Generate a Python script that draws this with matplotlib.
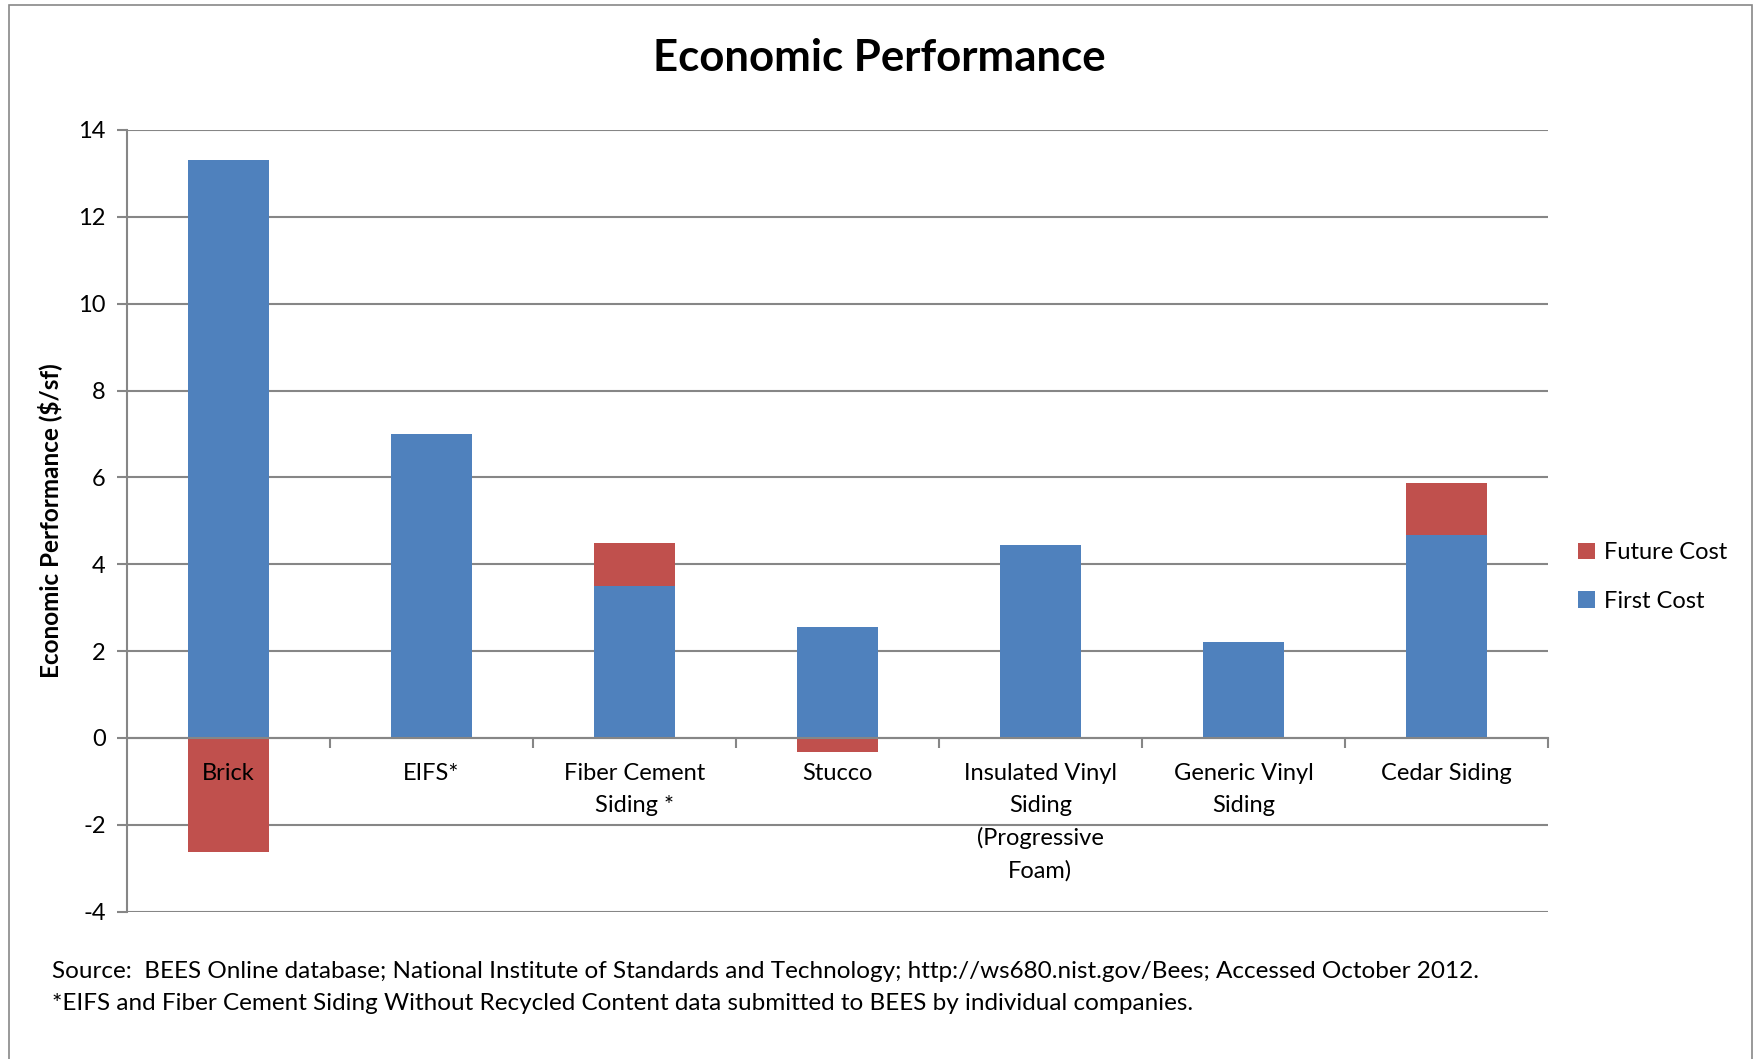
import matplotlib
matplotlib.use("Agg")
import matplotlib.pyplot as plt
from matplotlib.patches import Rectangle
import numpy as np

categories = ["Brick", "EIFS*", "Fiber Cement\nSiding *", "Stucco",
              "Insulated Vinyl\nSiding\n(Progressive\nFoam)", "Generic Vinyl\nSiding", "Cedar Siding"]
first_cost = [13.30, 7.01, 3.49, 2.56, 4.44, 2.22, 4.67]
future_cost = [-2.63, 0.0, 1.01, -0.32, 0.0, 0.0, 1.21]
yticks = [-4, -2, 0, 2, 4, 6, 8, 10, 12, 14]

plt.rcParams['font.family'] = ['Lato', 'DejaVu Sans']

W, H = 1758, 1059
fig = plt.figure(figsize=(W / 100, H / 100), dpi=100)
ax = fig.add_axes([126.7 / W, 1 - 911.6 / H, (1548 - 126.7) / W, (911.6 - 130) / H])

blue = "#4F81BD"
red = "#C0504D"
grid = "#868686"

x = np.arange(len(categories))
first = np.array(first_cost)
fut = np.array(future_cost)
bottoms = np.where(fut >= 0, first, 0)
ax.bar(x, first, width=0.4, color=blue, label="First Cost", zorder=3)
ax.bar(x, fut, width=0.4, bottom=bottoms, color=red, label="Future Cost", zorder=3)

ax.set_xlim(-0.5, len(categories) - 0.5)
ax.set_ylim(-4, 14)
ax.set_yticks(yticks)
ax.set_yticklabels([str(t) for t in yticks], fontsize=17)
ax.yaxis.grid(True, color=grid, linewidth=1.5, zorder=0)
ax.set_axisbelow(True)

for s in ["top", "right"]:
    ax.spines[s].set_visible(False)
ax.spines["left"].set_color(grid)
ax.spines["left"].set_linewidth(1.5)
ax.spines["bottom"].set_position(("data", 0))
ax.spines["bottom"].set_color(grid)
ax.spines["bottom"].set_linewidth(1.5)
ax.spines["bottom"].set_zorder(4)

ax.tick_params(axis="y", length=7, width=1.5, color=grid, pad=8)
ax.set_xticks(x)
ax.set_xticklabels([])
ax.tick_params(axis="x", which="major", length=0)
ax.set_xticks(np.arange(0.5, len(categories), 1.0), minor=True)
ax.tick_params(axis="x", which="minor", length=7, width=1.5, color=grid, direction="out")

for xi, lab in zip(x, categories):
    ax.annotate(lab, xy=(xi, 0), xytext=(0, -18), textcoords="offset points",
                ha="center", va="top", fontsize=17, linespacing=1.63, zorder=6,
                annotation_clip=False)

ax.set_ylabel("Economic Performance ($/sf)", fontsize=17.5, fontweight="bold", labelpad=12)

fig.text(0.5, 1 - 58 / H, "Economic Performance", ha="center", va="center",
         fontsize=31.5, fontweight="bold")

h, l = ax.get_legend_handles_labels()
leg = fig.legend([h[1], h[0]], [l[1], l[0]], loc="center left",
                 bbox_to_anchor=(1557 / W, 1 - 577 / H), frameon=False, fontsize=17,
                 handlelength=0.7, handleheight=0.7, handletextpad=0.4, labelspacing=1.15)

fig.text(52 / W, 1 - 971 / H,
         "Source:  BEES Online database; National Institute of Standards and Technology; http://ws680.nist.gov/Bees; Accessed October 2012.",
         fontsize=17.5, va="center", ha="left")
fig.text(52 / W, 1 - 1003 / H,
         "*EIFS and Fiber Cement Siding Without Recycled Content data submitted to BEES by individual companies.",
         fontsize=17.5, va="center", ha="left")

fig.patches.append(Rectangle((9 / W, -0.05), (1752 - 9) / W, 1 - 5 / H + 0.05,
                             transform=fig.transFigure, fill=False, edgecolor="#888888",
                             linewidth=1.2))

fig.savefig("out.png", dpi=100)
